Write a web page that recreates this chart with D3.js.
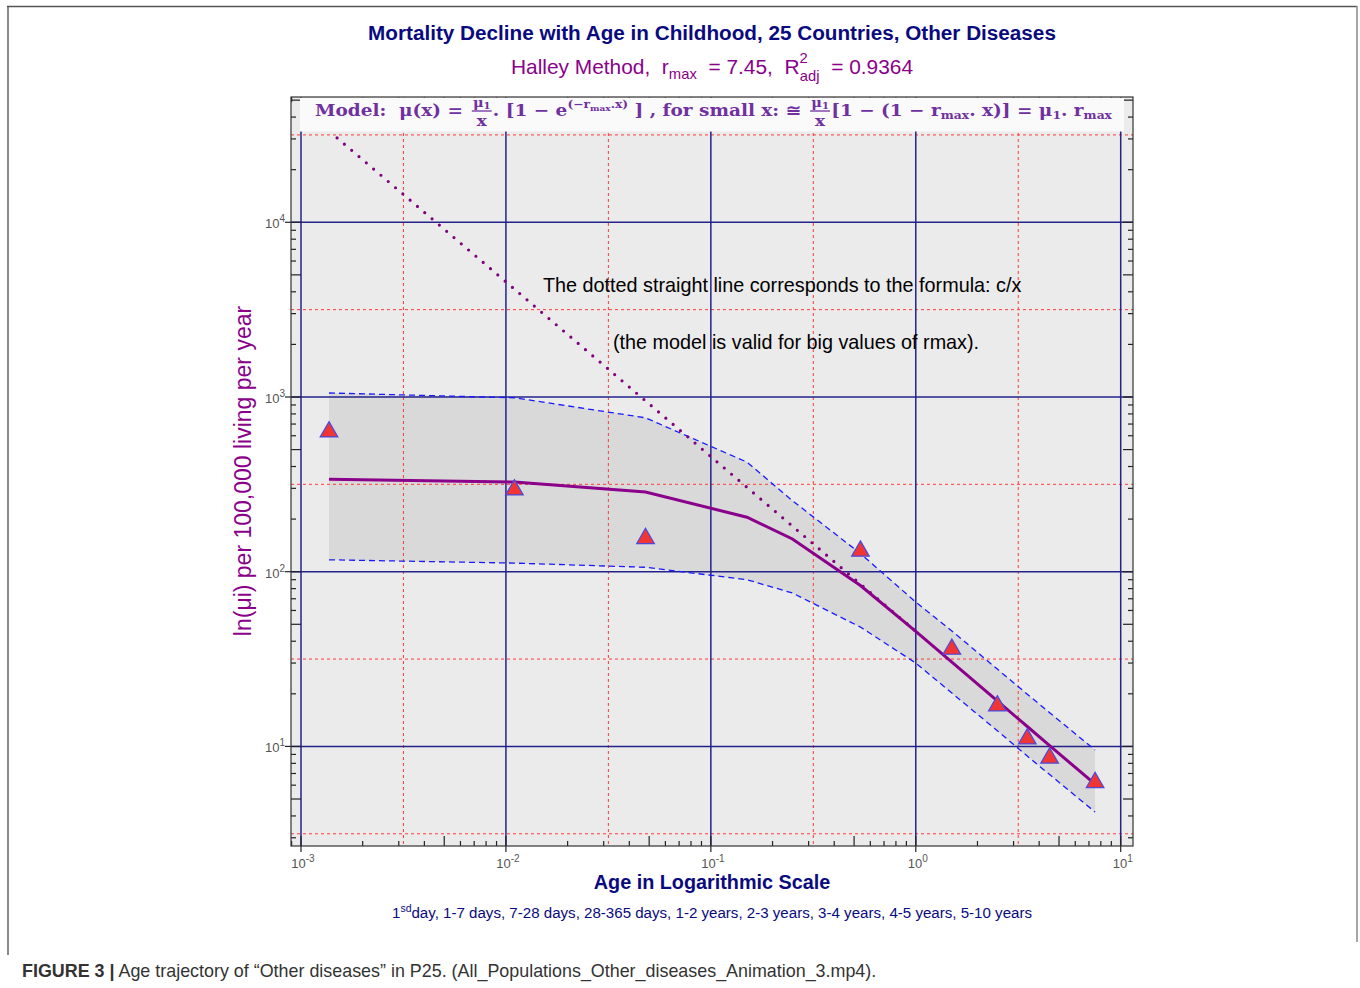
<!DOCTYPE html>
<html><head><meta charset="utf-8">
<script src="https://cdn.jsdelivr.net/npm/d3@7/dist/d3.min.js"></script>
<style>body{margin:0;background:#fff}svg{display:block}text{white-space:pre}</style>
</head><body>
<svg id="c" width="1360" height="988"></svg>
<script>
// ---- data ----
const ageGroups = ["1st day","1-7 days","7-28 days","28-365 days","1-2 years","2-3 years","3-4 years","4-5 years","5-10 years"];
const ageMid   = [0.00137, 0.011, 0.048, 0.537, 1.5, 2.5, 3.5, 4.5, 7.5];
const observed = [640, 298, 157, 133, 36.5, 17.3, 11.2, 8.7, 6.3];
const fitX  = [0.00137, 0.011, 0.048, 0.15, 0.25, 0.537, 1, 1.5, 2.5, 3.5, 4.5, 7.5];
const fitY  = [338, 326, 286, 205, 154, 83.4, 45.6, 30.4, 18.2, 13.0, 10.1, 6.08];
const upperY = [1054, 990, 760, 424, 255, 127, 67, 45.8, 27.7, 19.9, 15.6, 9.53];
const lowerY = [117, 112, 106, 90, 75.5, 48.2, 30, 20.2, 12.3, 8.8, 6.9, 4.21];
const dottedX = [0.0015, 1.0];
const dottedY = [30400, 45.6];
const xDecades = [1e-3, 1e-2, 1e-1, 1e0, 1e1];
const xDecadeExp = ["-3","-2","-1","0","1"];
const yDecades = [1e1, 1e2, 1e3, 1e4];
const yDecadeExp = ["1","2","3","4"];
const xHalf = [Math.pow(10,-2.5), Math.pow(10,-1.5), Math.pow(10,-0.5), Math.pow(10,0.5)];
const yHalf = [Math.pow(10,0.5), Math.pow(10,1.5), Math.pow(10,2.5), Math.pow(10,3.5), Math.pow(10,4.5)];

const svg = d3.select("#c");
const L=291, R=1133, T=97, B=846;
const x = d3.scaleLog().domain([Math.pow(10,-3.0488), Math.pow(10,1.0600)]).range([L,R]);
const y = d3.scaleLog().domain([Math.pow(10,0.430), Math.pow(10,4.717)]).range([B,T]);

// figure frame
svg.append("line").attr("x1",8).attr("x2",8).attr("y1",6).attr("y2",955).attr("stroke","#8a8a8a").attr("stroke-width",2);
svg.append("line").attr("x1",7).attr("x2",1357).attr("y1",6.5).attr("y2",6.5).attr("stroke","#555").attr("stroke-width",1.5);
svg.append("line").attr("x1",1357).attr("x2",1357).attr("y1",6).attr("y2",942).attr("stroke","#8a8a8a").attr("stroke-width",1.5);

// plot background
svg.append("rect").attr("x",L).attr("y",T).attr("width",R-L).attr("height",B-T).attr("fill","#ebebeb");

svg.append("clipPath").attr("id","pc").append("rect").attr("x",L).attr("y",T).attr("width",R-L).attr("height",B-T);
const g = svg.append("g").attr("clip-path","url(#pc)");

// confidence band
g.append("path").datum(fitX.map((v,i)=>[v,upperY[i],lowerY[i]]))
  .attr("d", d3.area().x(d=>x(d[0])).y0(d=>y(d[2])).y1(d=>y(d[1])))
  .attr("fill","#d9d9d9");

// grid
g.selectAll(".vh").data(xHalf).join("line").attr("x1",d=>x(d)).attr("x2",d=>x(d)).attr("y1",T).attr("y2",B)
  .attr("stroke","#ff3b3b").attr("stroke-width",1).attr("stroke-dasharray","3,3");
g.selectAll(".hh").data(yHalf).join("line").attr("y1",d=>y(d)).attr("y2",d=>y(d)).attr("x1",L).attr("x2",R)
  .attr("stroke","#ff3b3b").attr("stroke-width",1).attr("stroke-dasharray","3,3");
g.selectAll(".vd").data(xDecades).join("line").attr("x1",d=>x(d)).attr("x2",d=>x(d)).attr("y1",T).attr("y2",B)
  .attr("stroke","#23238a").attr("stroke-width",1.5);
g.selectAll(".hd").data(yDecades).join("line").attr("y1",d=>y(d)).attr("y2",d=>y(d)).attr("x1",L).attr("x2",R)
  .attr("stroke","#23238a").attr("stroke-width",1.5);

// band edges
const ln = d3.line().x(d=>x(d[0])).y(d=>y(d[1]));
g.append("path").datum(fitX.map((v,i)=>[v,upperY[i]])).attr("d",ln).attr("fill","none")
  .attr("stroke","#1a1aff").attr("stroke-width",1.3).attr("stroke-dasharray","6,4");
g.append("path").datum(fitX.map((v,i)=>[v,lowerY[i]])).attr("d",ln).attr("fill","none")
  .attr("stroke","#1a1aff").attr("stroke-width",1.3).attr("stroke-dasharray","6,4");

// dotted c/x line
g.append("path").datum(dottedX.map((v,i)=>[v,dottedY[i]])).attr("d",ln).attr("fill","none")
  .attr("stroke","#800080").attr("stroke-width",3.2).attr("stroke-linecap","round").attr("stroke-dasharray","0,9.6");

// fitted line
g.append("path").datum(fitX.map((v,i)=>[v,fitY[i]])).attr("d",ln).attr("fill","none")
  .attr("stroke","#8b008b").attr("stroke-width",3);

// observed triangles
const tri = d3.symbol().type(d3.symbolTriangle).size(135);
g.selectAll(".pt").data(ageMid.map((v,i)=>[v,observed[i]])).join("path")
  .attr("d",tri).attr("transform",d=>`translate(${x(d[0])},${y(d[1])+1})`)
  .attr("fill","#f03535").attr("stroke","#4a4ae0").attr("stroke-width",1.2);

// ticks (MATLAB-like, inward; decades crossing on left/bottom)
const tk = svg.append("g").attr("stroke","#222").attr("stroke-width",1.2);
function minorVals(lo,hi){const a=[];for(let e=lo;e<hi;e++)for(let m=2;m<=9;m++)a.push([m*Math.pow(10,e),m]);return a;}
const xm = minorVals(-4,2).filter(d=>x(d[0])>=L&&x(d[0])<=R);
const ym = minorVals(0,5).filter(d=>y(d[0])>=T&&y(d[0])<=B);
xm.forEach(d=>{const len=d[1]===5?10:5;const xx=x(d[0]);
  tk.append("line").attr("x1",xx).attr("x2",xx).attr("y1",B).attr("y2",B-len);
  tk.append("line").attr("x1",xx).attr("x2",xx).attr("y1",T).attr("y2",T+len);});
ym.forEach(d=>{const len=d[1]===5?10:5;const yy=y(d[0]);
  tk.append("line").attr("y1",yy).attr("y2",yy).attr("x1",L).attr("x2",L+len);
  tk.append("line").attr("y1",yy).attr("y2",yy).attr("x1",R).attr("x2",R-len);});
xDecades.forEach(d=>{const xx=x(d);
  tk.append("line").attr("x1",xx).attr("x2",xx).attr("y1",B+6).attr("y2",B-10);
  tk.append("line").attr("x1",xx).attr("x2",xx).attr("y1",T).attr("y2",T+10);});
yDecades.forEach(d=>{const yy=y(d);
  tk.append("line").attr("y1",yy).attr("y2",yy).attr("x1",L-6).attr("x2",L+10);
  tk.append("line").attr("y1",yy).attr("y2",yy).attr("x1",R).attr("x2",R-10);});

// formula box (covers the top strip)
svg.append("rect").attr("x",300).attr("y",T+0.5).attr("width",824).attr("height",34).attr("fill","#fafafa");

// frame
svg.append("rect").attr("x",L).attr("y",T).attr("width",R-L).attr("height",B-T).attr("fill","none").attr("stroke","#333").attr("stroke-width",1.2);

// tick labels
const tf = "Liberation Sans, Arial, sans-serif";
xDecades.forEach((d,i)=>{
  const t=svg.append("text").attr("x",x(d)+2).attr("y",868).attr("text-anchor","middle").attr("font-family",tf).attr("font-size",13).attr("fill","#555");
  t.append("tspan").text("10"); t.append("tspan").attr("dy",-6).attr("font-size",10).text(xDecadeExp[i]);
});
yDecades.forEach((d,i)=>{
  const t=svg.append("text").attr("x",285).attr("y",y(d)+6).attr("text-anchor","end").attr("font-family",tf).attr("font-size",13).attr("fill","#555");
  t.append("tspan").text("10"); t.append("tspan").attr("dy",-6).attr("font-size",10).text(yDecadeExp[i]);
});

// titles
svg.append("text").attr("x",712).attr("y",40).attr("text-anchor","middle").attr("font-family",tf).attr("font-weight","bold")
  .attr("font-size",20.7).attr("fill","#0a0a80").text("Mortality Decline with Age in Childhood, 25 Countries, Other Diseases");
const st = svg.append("text").attr("x",712).attr("y",74).attr("text-anchor","middle").attr("font-family",tf).attr("font-size",20.9).attr("fill","#8b008b");
st.append("tspan").text("Halley Method,  r");
st.append("tspan").attr("font-size",14.8).attr("dy",5).text("max");
st.append("tspan").attr("dy",-5).text("  = 7.45,  R");
st.append("tspan").attr("font-size",14.8).attr("dy",-11).text("2");
st.append("tspan").attr("font-size",14.8).attr("dx",-8).attr("dy",18).text("adj");
st.append("tspan").attr("dy",-7).text("  = 0.9364");

// formula
(function(){
  const ff="'DejaVu Serif', 'Liberation Serif', serif", col="#7030a0";
  const x0=315, target=1112;
  const fb = svg.append("g").attr("font-family",ff).attr("font-weight","bold").attr("fill",col);
  let cx=x0; const base=116;
  function txt(s,size,dy){const t=fb.append("text").attr("x",cx).attr("y",base+(dy||0)).attr("font-size",size).text(s);cx+=t.node().getComputedTextLength();return t;}
  function frac(){
    const xs=cx+2;
    const n=fb.append("text").attr("x",xs+1).attr("y",base-9).attr("font-size",13);
    n.append("tspan").text("μ"); n.append("tspan").attr("font-size",9).attr("dy",2).text("1");
    const w=n.node().getComputedTextLength()+2;
    fb.append("line").attr("x1",xs).attr("x2",xs+w).attr("y1",base-5).attr("y2",base-5).attr("stroke",col).attr("stroke-width",1.3);
    fb.append("text").attr("x",xs+w/2).attr("y",base+10).attr("text-anchor","middle").attr("font-size",15).text("x");
    cx+=w+3;
  }
  txt("Model:  μ(x) = ",16.5);
  frac();
  txt(". [1 − e",16.5);
  txt("(−r",11,-8); txt("max",8,-5); txt(".x)",11,-8);
  txt(" ] , for small x: ≅ ",16.5);
  frac();
  txt("[1 − (1 − r",16.5); txt("max",11,3); txt(". x)] = μ",16.5); txt("1",11,3); txt(". r",16.5); txt("max",11,3);
  const sx=(target-x0)/(cx-x0);
  fb.attr("transform",`translate(${x0},0) scale(${sx},1) translate(${-x0},0)`);
})();

// annotations
svg.append("text").attr("x",543).attr("y",292).attr("font-family",tf).attr("font-size",19.8).attr("fill","#000")
  .text("The dotted straight line corresponds to the formula: c/x");
svg.append("text").attr("x",613).attr("y",349).attr("font-family",tf).attr("font-size",19.8).attr("fill","#000")
  .text("(the model is valid for big values of rmax).");

// axis titles
svg.append("text").attr("transform","translate(251,471) rotate(-90)").attr("text-anchor","middle").attr("font-family",tf)
  .attr("font-size",23).attr("fill","#8b008b").text("ln(μi) per 100,000 living per year");
svg.append("text").attr("x",712).attr("y",889).attr("text-anchor","middle").attr("font-family",tf).attr("font-weight","bold")
  .attr("font-size",19.8).attr("fill","#0a0a80").text("Age in Logarithmic Scale");
const sub = svg.append("text").attr("x",712).attr("y",918).attr("text-anchor","middle").attr("font-family",tf).attr("font-size",15.1).attr("fill","#0a0a80");
sub.append("tspan").text("1");
sub.append("tspan").attr("font-size",10.5).attr("dy",-6).text("sd");
sub.append("tspan").attr("dy",6).text(ageGroups.map((s,i)=>i===0?"day":s).join(", "));

// caption
const cap = svg.append("text").attr("x",22).attr("y",977).attr("font-family",tf).attr("font-size",17.9).attr("fill","#333");
cap.append("tspan").attr("font-weight","bold").text("FIGURE 3 |");
cap.append("tspan").text(" Age trajectory of “Other diseases” in P25. (All_Populations_Other_diseases_Animation_3.mp4).");
</script>
</body></html>
